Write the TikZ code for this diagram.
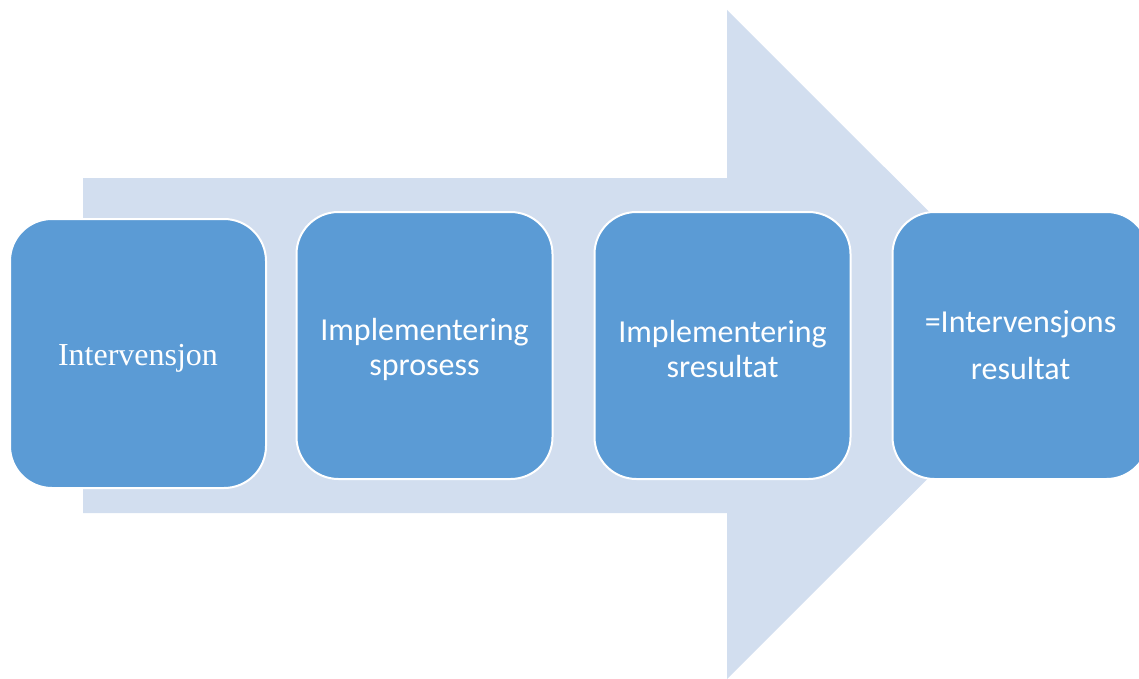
\documentclass[tikz,border=0pt]{standalone}
\usepackage{fontspec}
\setmainfont{Carlito}
\newfontfamily\serifstage{Liberation Serif}
\definecolor{arrowblue}{HTML}{D2DEEF}
\definecolor{boxblue}{HTML}{5B9BD5}
\newcommand{\stagestrut}{\rule{0pt}{30pt}}
\tikzset{
  stage/.style={draw=white, line width=2pt, fill=boxblue, rounded corners=42pt,
    minimum width=256pt, minimum height=267pt, text=white, align=center,
    font=\fontsize{32}{35}\selectfont}
}
\begin{document}
\begin{tikzpicture}[x=1pt,y=-1pt]
      \clip (0,0) rectangle (1139,679);
      % big arrow behind the stages
      \fill[arrowblue] (83,178) -- (727,178) -- (727,10) -- (1062,344.5)
        -- (727,679) -- (727,513) -- (83,513) -- cycle;
      \node[stage, minimum height=269pt] (interv) at (138,353.5)
        {\stagestrut\serifstage Intervensjon};
      \node[stage] (prosess) at (424.5,345.5)
        {\stagestrut Implementering\\sprosess};
      \node[stage] (impres) at (722.5,345.5)
        {\stagestrut Implementering\\sresultat};
      \node[stage] (intres) at (1020.5,345.5)
        {=Intervensjons\\[12pt]resultat};
    \end{tikzpicture}
\end{document}
